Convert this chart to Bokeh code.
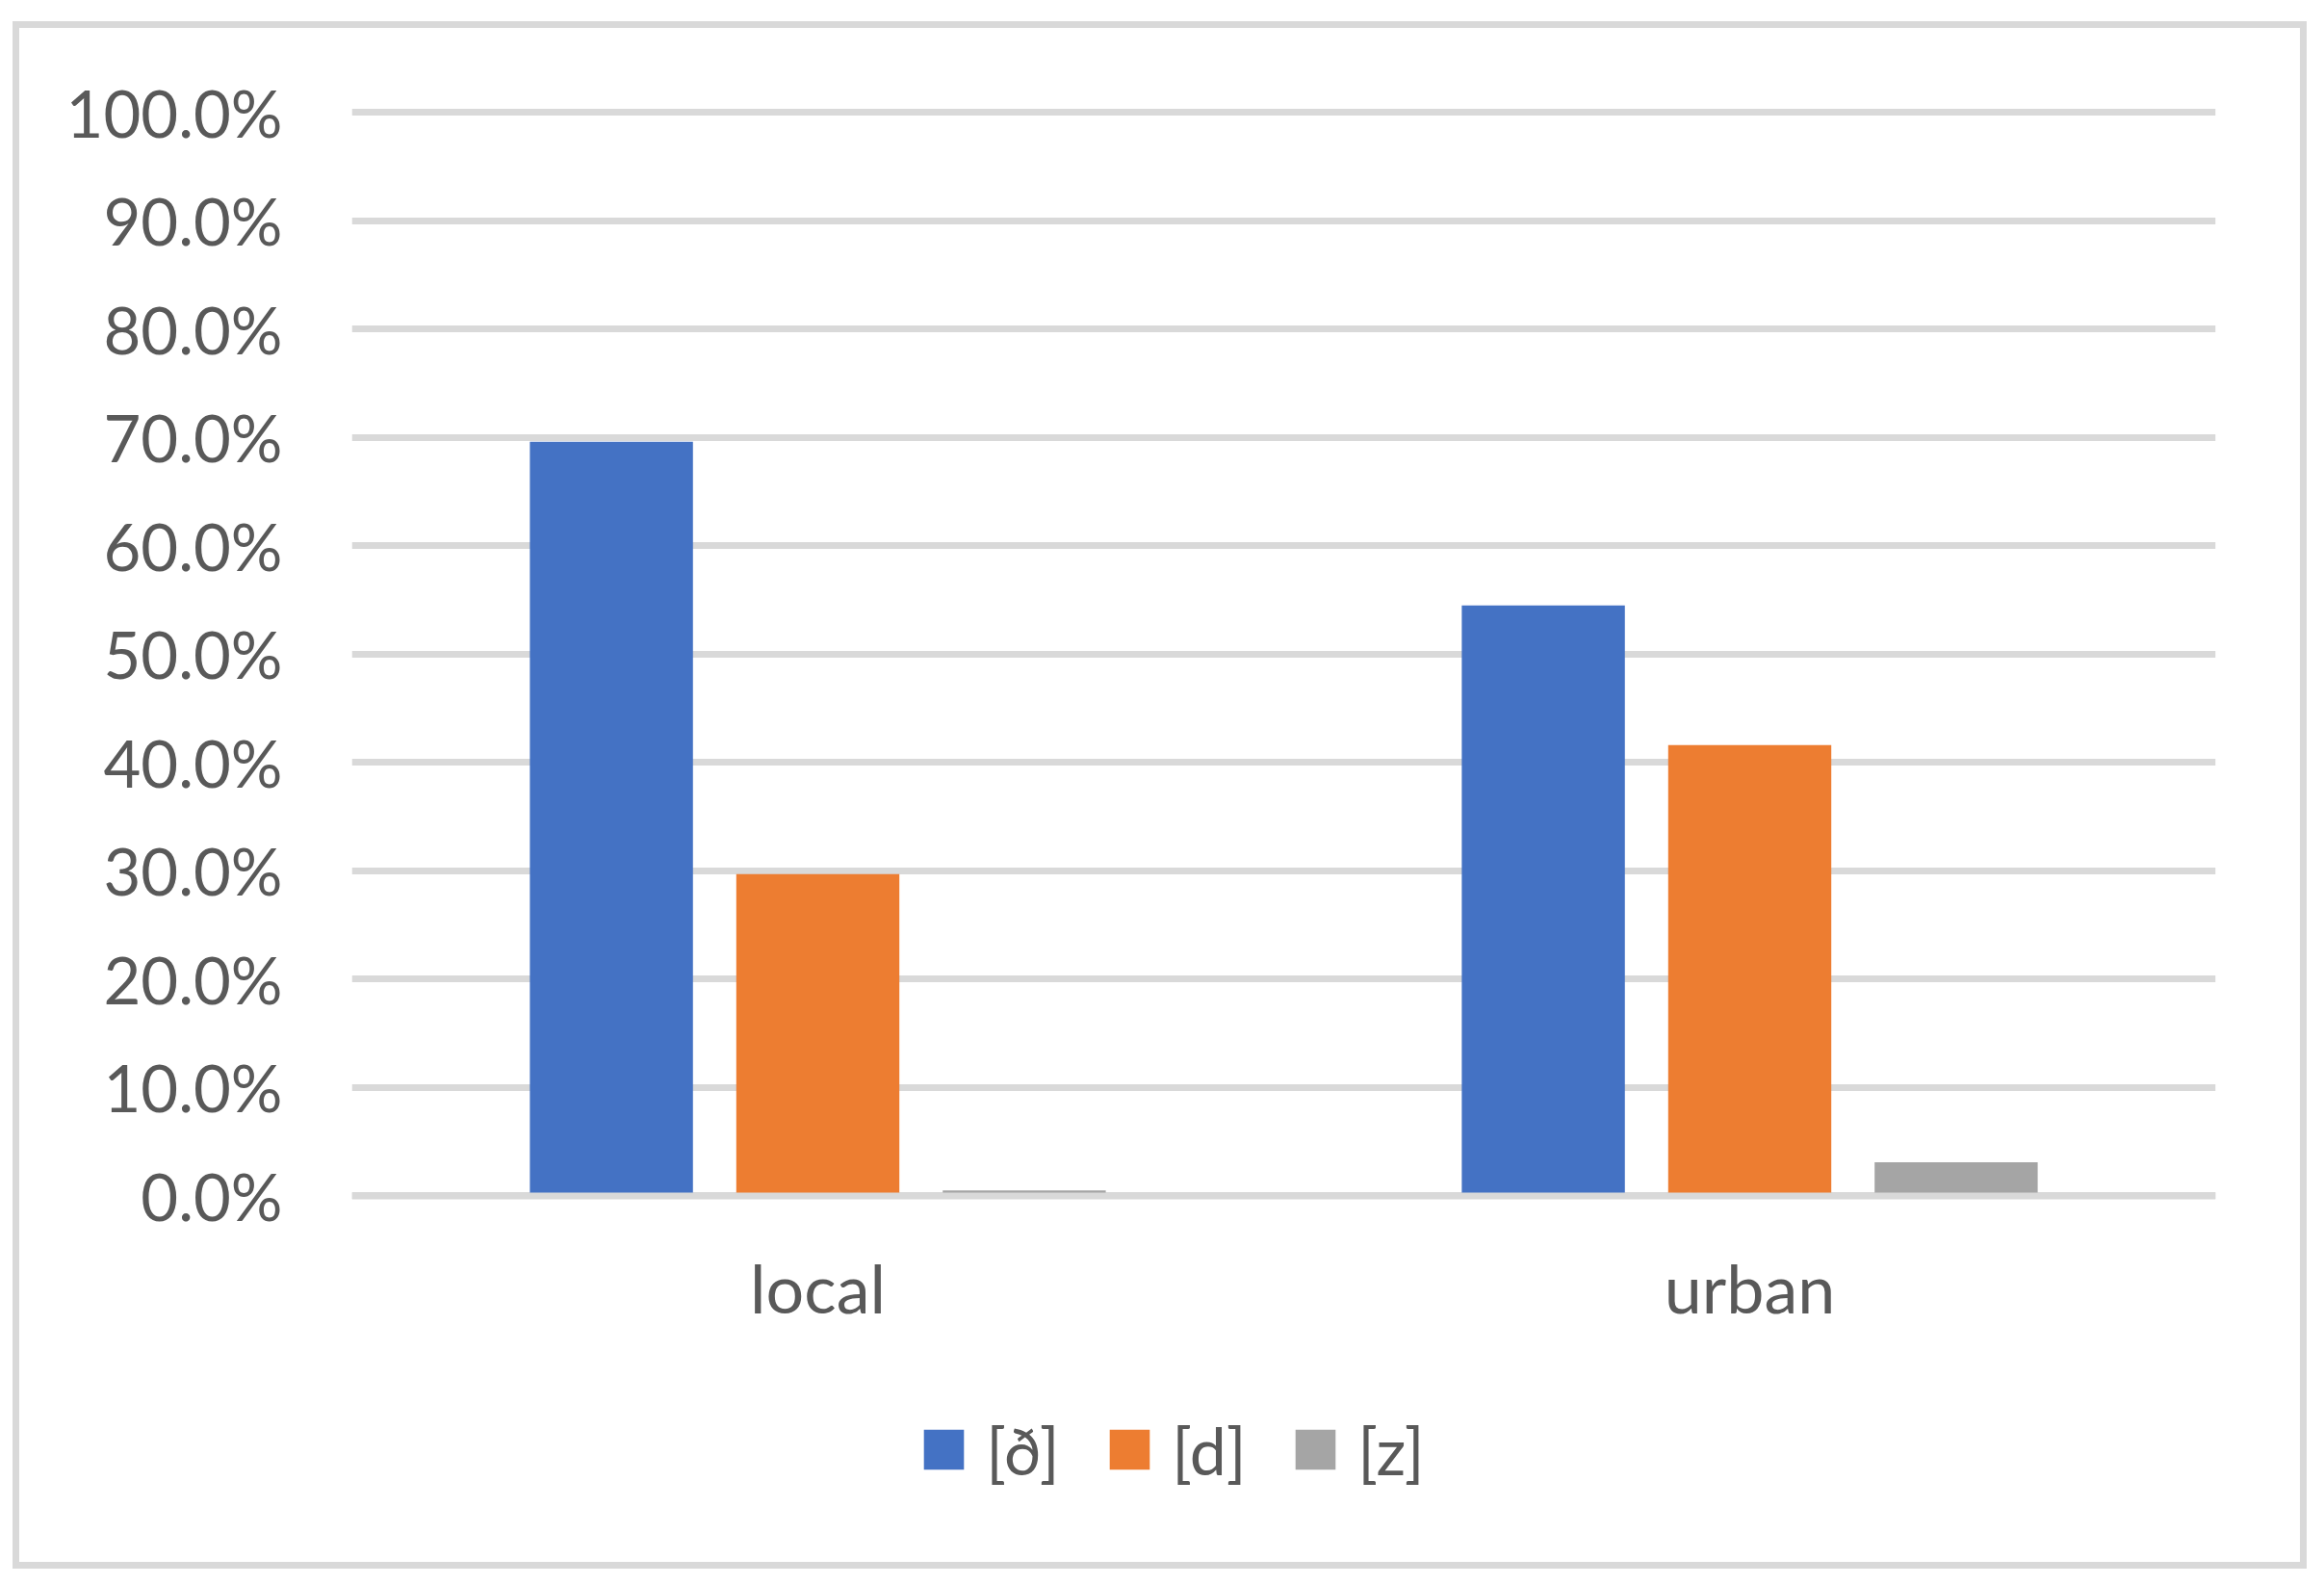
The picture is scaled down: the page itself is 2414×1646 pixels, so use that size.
from bokeh.plotting import figure
from bokeh.models import (FactorRange, Range1d, FixedTicker, NumeralTickFormatter,
                          Legend, LegendItem, Span, ColumnDataSource)
from bokeh.transform import dodge
from bokeh.embed import file_html
from bokeh.resources import INLINE

# ---- data ----
categories = ["local", "urban"]
series_names = ["[ð]", "[d]", "[z]"]
eth_values = [0.696, 0.545]   # [ð]
d_values = [0.297, 0.416]     # [d]
z_values = [0.005, 0.031]     # [z]
y_ticks = [0.0, 0.1, 0.2, 0.3, 0.4, 0.5, 0.6, 0.7, 0.8, 0.9, 1.0]

colors = ["#4472C4", "#ED7D31", "#A5A5A5"]
FONT = "Lato"
TEXT_COLOR = "#595959"
GRID_COLOR = "#D9D9D9"

source = ColumnDataSource(dict(cat=categories, eth=eth_values, d=d_values, z=z_values))

# the plotting frame extends down to hold the legend; only 0..100% is gridded/labelled
p = figure(width=2383, height=1607,
           x_range=FactorRange(*categories), y_range=Range1d(-0.3302, 1.01),
           output_backend="svg", toolbar_location=None,
           min_border_left=352, min_border_right=95,
           min_border_top=83, min_border_bottom=16,
           styles={"margin-left": "13px", "margin-top": "22px",
                   "box-shadow": "inset 0 0 0 7px #D9D9D9"})
p.outline_line_color = None
p.background_fill_color = None
p.border_fill_color = None

offsets = [-0.2215, 0.0, 0.2215]
fields = ["eth", "d", "z"]
renderers = []
for off, fld, col in zip(offsets, fields, colors):
    r = p.vbar(x=dodge("cat", off, range=p.x_range), top=fld, bottom=0, width=0.175,
               source=source, fill_color=col, line_color=None)
    renderers.append(r)

# zero line drawn over bar bottoms
p.add_layout(Span(location=0, dimension="width", line_color=GRID_COLOR, line_width=7))

# grid
p.xgrid.visible = False
p.ygrid.ticker = FixedTicker(ticks=y_ticks)
p.ygrid.grid_line_color = GRID_COLOR
p.ygrid.grid_line_width = 7

# axes
p.yaxis.ticker = FixedTicker(ticks=y_ticks)
p.yaxis.formatter = NumeralTickFormatter(format="0.0%")
for ax in (p.xaxis[0], p.yaxis[0]):
    ax.axis_line_color = None
    ax.major_tick_line_color = None
    ax.minor_tick_line_color = None
    ax.major_tick_out = 0
    ax.major_tick_in = 0
    ax.major_label_text_font = FONT
    ax.major_label_text_color = TEXT_COLOR
p.yaxis.major_label_text_font_size = "67px"
p.xaxis.major_label_text_font_size = "70px"
p.yaxis.major_label_standoff = 72
# category labels sit just under the 0% line (inside the extended frame)
p.xaxis.major_label_standoff = -319

# legend
items = [LegendItem(label=n, renderers=[r]) for n, r in zip(series_names, renderers)]
legend = Legend(items=items, orientation="horizontal", location=(589.3, 67.5),
                glyph_width=52, glyph_height=52, label_height=43, label_width=80,
                label_standoff=18, spacing=43, padding=0, margin=0,
                border_line_color=None, background_fill_alpha=0,
                label_text_font=FONT, label_text_font_size="68px",
                label_text_color=TEXT_COLOR)
p.add_layout(legend)

open("out.html", "w").write(file_html(p, INLINE))
